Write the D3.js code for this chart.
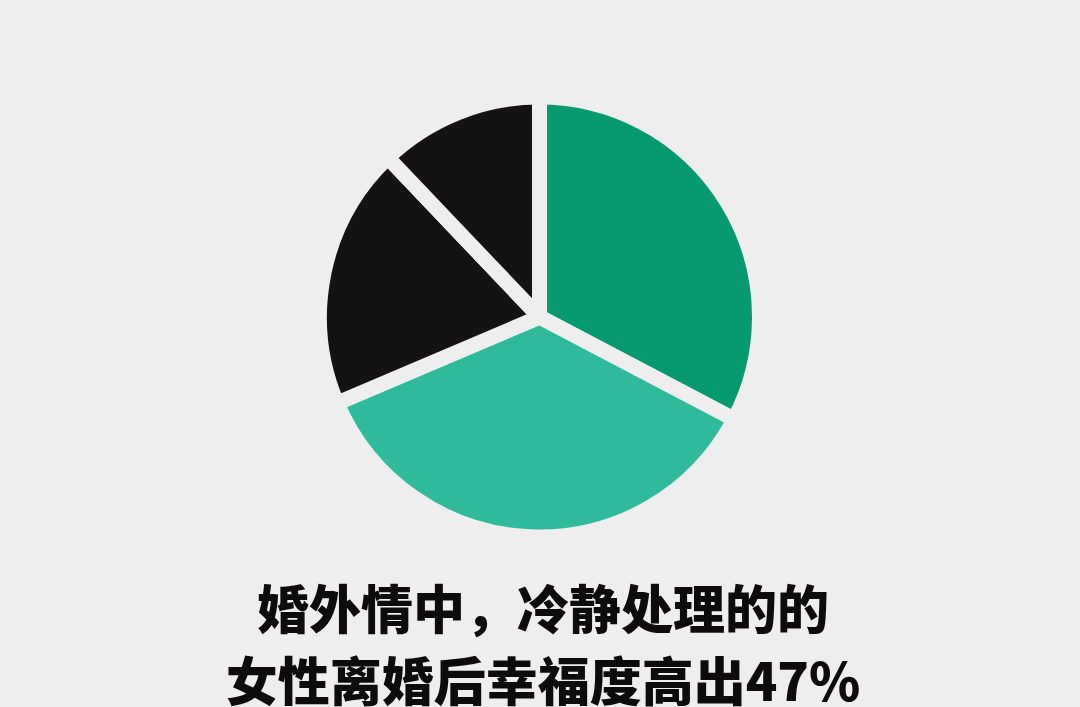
<!DOCTYPE html>
<html><head><meta charset="utf-8">
<script src="https://cdn.jsdelivr.net/npm/d3@7/dist/d3.min.js"></script>
<style>
html,body{margin:0;padding:0;background:#efeeee;}
svg{display:block;}
</style></head>
<body>
<svg id="chart" width="1080" height="707"></svg>
<script>
const categories = ["A", "B", "C", "D"];
const values = [32.7, 35.9, 19.3, 12.1];
const colors = ["#07996f", "#2fbb9b", "#141212", "#141212"];
const titleLines = ["婚外情中，冷静处理的的", "女性离婚后幸福度高出47%"];

const W = 1080, H = 707, bg = "#efeeee";
const svg = d3.select("#chart");
svg.append("rect").attr("width", W).attr("height", H).attr("fill", bg);

const cx = 539.5, cy = 317, gap = 15, R = 212.5 + gap / 2;
const pie = d3.pie().sort(null).value(d => d.v);
const arc = d3.arc().innerRadius(0).outerRadius(R);
const data = categories.map((c, i) => ({ c, v: values[i] }));
const color = d3.scaleOrdinal().domain(categories).range(colors);

svg.append("g").attr("transform", `translate(${cx},${cy})`)
  .selectAll("path").data(pie(data)).join("path")
  .attr("d", arc)
  .attr("fill", d => color(d.data.c))
  .attr("stroke", bg)
  .attr("stroke-width", gap)
  .attr("stroke-linejoin", "round");

svg.append("g").selectAll("text").data(titleLines).join("text")
  .attr("x", 543)
  .attr("y", (d, i) => 629 + i * 72)
  .attr("text-anchor", "middle")
  .attr("font-family", "'Noto Sans CJK SC', sans-serif")
  .attr("font-weight", 900)
  .attr("font-size", 52)
  .attr("fill", "#0d0b0b")
  .text(d => d);
</script>
</body></html>
